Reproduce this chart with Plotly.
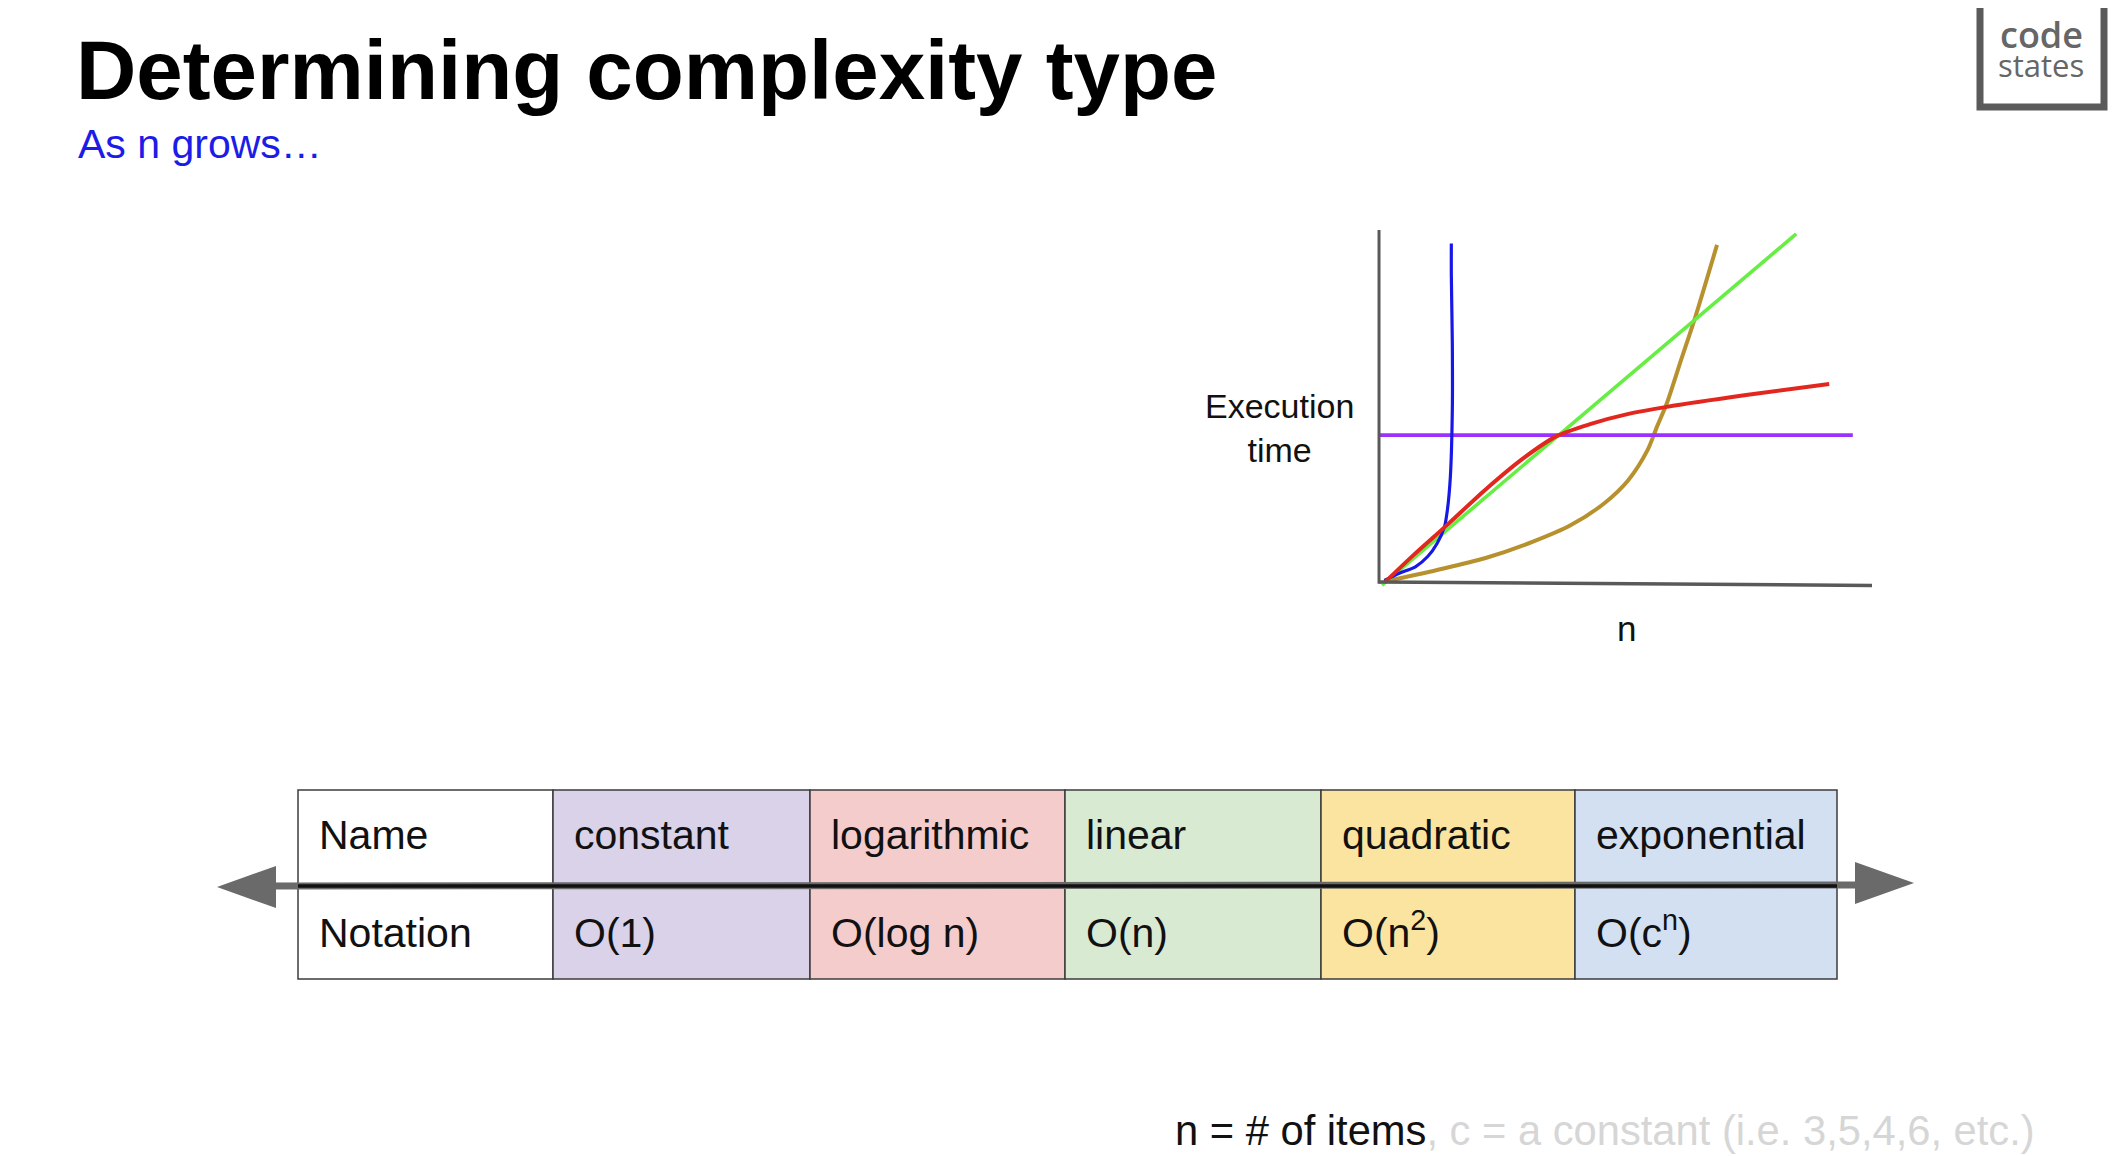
import plotly.graph_objects as go

# page body has an 8px margin, so the figure is placed at (8, 8)
PAGE_W, PAGE_H = 2124, 1156
OFF = 8
W, H = PAGE_W - OFF, PAGE_H - OFF

# ---------------- data ----------------
# curves of the "execution time vs n" sketch (arbitrary units, 0-100)
const_n = [0.0, 96.1]
const_t = [41.9, 41.9]

log_n = [0.9, 6.8, 13.6, 21.3, 29.1, 35.9, 42.7, 50.5, 58.3, 74.8, 91.3]
log_t = [0.1, 7.9, 16.4, 26.3, 35.3, 41.6, 45.0, 47.9, 49.9, 53.3, 56.4]

lin_n = [0.4, 84.6]
lin_t = [-0.6, 98.9]

quad_n = [0.9, 11.6, 21.3, 31.1, 38.8, 45.6, 50.5, 54.4, 56.3, 58.3, 61.2, 64.1, 68.5]
quad_t = [0.4, 3.7, 7.0, 11.7, 16.4, 22.6, 29.2, 37.7, 44.3, 50.9, 63.2, 75.4, 95.8]

exp_n = [0.9, 3.8, 7.2, 9.7, 11.6, 13.1, 13.7, 14.3, 14.7, 14.7, 14.5, 14.5]
exp_t = [0.7, 2.7, 4.6, 7.5, 11.2, 15.9, 20.7, 30.1, 49.0, 67.9, 86.8, 96.2]

# table
names = ["Name", "constant", "logarithmic", "linear", "quadratic", "exponential"]
notations = ["Notation", "O(1)", "O(log n)", "O(n)", "O(n<sup>2</sup>)", "O(c<sup>n</sup>)"]
cell_colors = ["#ffffff", "#d9d2e9", "#f4cccc", "#d9ead3", "#fbe4a0", "#d3e0f2"]

# ---------------- styling / layout constants ----------------
FONT = "Liberation Sans, Arial, sans-serif"
C_CONST = "#9b30ff"
C_LOG = "#e2281e"
C_LIN = "#66ee44"
C_QUAD = "#b8912f"
C_EXP = "#1818e6"


def X(px):
    return (px - OFF) / W


def Y(py):
    return 1 - (py - OFF) / H


# chart pixel mapping: data 0 -> px origin, 100 -> far end
OX, OY = 1380, 583
SX, SY = 4.92, 3.53
XR = [-5, 105]
YR = [-5, 105]
xdom = [X(OX + XR[0] * SX), X(OX + XR[1] * SX)]
ydom = [Y(OY - YR[0] * SY), Y(OY - YR[1] * SY)]

fig = go.Figure()

for xs, ys, col, w in [
    (quad_n, quad_t, C_QUAD, 4),
    (lin_n, lin_t, C_LIN, 3.6),
    (const_n, const_t, C_CONST, 3.6),
    (exp_n, exp_t, C_EXP, 3.2),
    (log_n, log_t, C_LOG, 4),
]:
    fig.add_trace(go.Scatter(x=xs, y=ys, mode="lines",
                             line=dict(color=col, width=w, shape="spline", smoothing=0.8),
                             hoverinfo="skip", showlegend=False))

shapes = []
annotations = []

# chart axes
shapes.append(dict(type="line", xref="x", yref="y", x0=-0.2, y0=-0.2, x1=-0.2, y1=100,
                   line=dict(color="#595959", width=3)))
shapes.append(dict(type="line", xref="x", yref="y", x0=-0.2, y0=0.3, x1=100, y1=-0.7,
                   line=dict(color="#595959", width=3.5)))

annotations.append(dict(xref="paper", yref="paper", x=X(1279), y=Y(428), text="Execution<br>time",
                        showarrow=False, xanchor="center", yanchor="middle", align="center",
                        font=dict(family=FONT, size=34, color="#111111")))
annotations.append(dict(xref="paper", yref="paper", x=X(1626), y=Y(628), text="n",
                        showarrow=False, xanchor="center", yanchor="middle",
                        font=dict(family=FONT, size=35, color="#111111")))

# title & subtitle
annotations.append(dict(xref="paper", yref="paper", x=X(75), y=Y(70), text="<b>Determining complexity type</b>",
                        showarrow=False, xanchor="left", yanchor="middle", borderpad=0,
                        font=dict(family=FONT, size=83.5, color="#000000")))
annotations.append(dict(xref="paper", yref="paper", x=X(77), y=Y(144), text="As n grows…",
                        showarrow=False, xanchor="left", yanchor="middle", borderpad=0,
                        font=dict(family=FONT, size=41, color="#1c1ce8")))

# logo
shapes.append(dict(type="rect", xref="paper", yref="paper", x0=X(1980), x1=X(2104), y0=Y(107), y1=Y(-20),
                   line=dict(color="#5a5a5a", width=7), fillcolor="rgba(0,0,0,0)"))
annotations.append(dict(xref="paper", yref="paper", x=X(2041), y=Y(34), text="code",
                        showarrow=False, xanchor="center", yanchor="middle", borderpad=0,
                        font=dict(family="Open Sans", size=36, color="#666666", weight=600)))
annotations.append(dict(xref="paper", yref="paper", x=X(2041), y=Y(65), text="states",
                        showarrow=False, xanchor="center", yanchor="middle", borderpad=0,
                        font=dict(family="Open Sans", size=31, color="#666666")))
# right edge line
shapes.append(dict(type="line", xref="paper", yref="paper", x0=X(2120), x1=X(2120), y0=0, y1=1,
                   line=dict(color="#d4d4d4", width=2)))

# table with arrow
col_w = [255, 257, 255, 256, 254, 262]
T_LEFT, T_TOP, T_MID, T_BOT = 298, 790, 886, 979
ARROW_GRAY = "#6a6a6a"

# arrow shaft
shapes.append(dict(type="line", xref="paper", yref="paper", x0=X(270), x1=X(1860), y0=Y(886), y1=Y(885),
                   line=dict(color=ARROW_GRAY, width=7)))
shapes.append(dict(type="path", xref="paper", yref="paper",
                   path=f"M {X(217)} {Y(887)} L {X(276)} {Y(866)} L {X(276)} {Y(908)} Z",
                   fillcolor=ARROW_GRAY, line=dict(width=0)))
shapes.append(dict(type="path", xref="paper", yref="paper",
                   path=f"M {X(1914)} {Y(883)} L {X(1855)} {Y(862)} L {X(1855)} {Y(904)} Z",
                   fillcolor=ARROW_GRAY, line=dict(width=0)))

left = T_LEFT
for i, (nm, nt, col) in enumerate(zip(names, notations, cell_colors)):
    right = left + col_w[i]
    for (top, bot) in [(T_TOP, T_MID), (T_MID, T_BOT)]:
        shapes.append(dict(type="rect", xref="paper", yref="paper", layer="below",
                           x0=X(left), x1=X(right), y0=Y(bot), y1=Y(top),
                           fillcolor=col, line=dict(color="#3c3c3c", width=1.5)))
    annotations.append(dict(xref="paper", yref="paper", x=X(left + 20), y=Y(835), text=nm,
                            showarrow=False, xanchor="left", yanchor="middle", borderpad=0,
                            font=dict(family=FONT, size=41, color="#111111")))
    annotations.append(dict(xref="paper", yref="paper", x=X(left + 20), y=Y(933), text=nt,
                            showarrow=False, xanchor="left", yanchor="middle", borderpad=0,
                            yshift=3 if "<sup>" in nt else 0,
                            font=dict(family=FONT, size=41, color="#111111")))
    left = right

# black divider inside table
shapes.append(dict(type="line", xref="paper", yref="paper", x0=X(T_LEFT), x1=X(left), y0=Y(886), y1=Y(886),
                   line=dict(color="#111111", width=3.5)))

# footer
annotations.append(dict(xref="paper", yref="paper", x=X(1174), y=Y(1130),
                        text="n = # of items<span style='color:#d6d6d6'>, c = a constant (i.e. 3,5,4,6, etc.)</span>",
                        showarrow=False, xanchor="left", yanchor="middle", borderpad=0,
                        font=dict(family=FONT, size=41.7, color="#111111")))

fig.update_layout(
    width=W, height=H,
    margin=dict(l=0, r=0, t=0, b=0),
    paper_bgcolor="white", plot_bgcolor="rgba(0,0,0,0)",
    xaxis=dict(domain=xdom, range=XR, visible=False, fixedrange=True),
    yaxis=dict(domain=ydom, range=YR, visible=False, fixedrange=True),
    shapes=shapes, annotations=annotations,
    showlegend=False,
)

fig.write_html("out.html", config={"displayModeBar": False})
